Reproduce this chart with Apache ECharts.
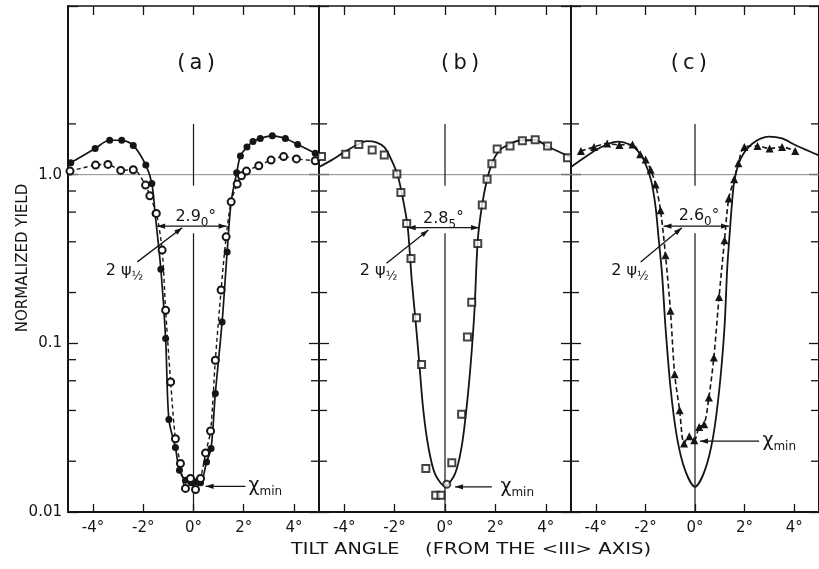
<!DOCTYPE html>
<html><head><meta charset="utf-8">
<script src="https://cdn.jsdelivr.net/npm/echarts@6/dist/echarts.min.js"></script>
<style>html,body{margin:0;padding:0;background:#fff}#c{width:819px;height:569px}</style>
</head><body><div id="c"></div>
<script>
// ---------- data ----------
const xTicks = [-4, -2, 0, 2, 4];
const xTickLabels = ['-4°', '-2°', '0°', '2°', '4°'];
const yTickValues = [0.01, 0.1, 1];
const yTickLabels = ['0.01', '0.1', '1.0'];
const yMinorTicks = [0.02, 0.04, 0.06, 0.08, 0.2, 0.4, 0.6, 0.8, 2];
const panelNames = ['(\u2009a\u2009)', '(\u2009b\u2009)', '(\u2009c\u2009)'];
const xAxisTitleA = 'TILT ANGLE';
const xAxisTitleB = '(FROM THE <III> AXIS)';
const yAxisTitle = 'NORMALIZED YIELD';

// panel (a)
const aFilled = [[-4.89,1.175],[-3.92,1.43],[-3.34,1.60],[-2.86,1.60],[-2.40,1.49],[-1.90,1.14],[-1.66,0.887],[-1.53,0.589],[-1.30,0.275],[-1.11,0.107],[-0.98,0.0353],[-0.72,0.0241],[-0.56,0.0177],[-0.32,0.0154],[-0.09,0.0149],[0.08,0.0151],[0.28,0.0149],[0.52,0.0198],[0.70,0.0238],[0.87,0.0504],[1.14,0.134],[1.34,0.348],[1.50,0.69],[1.72,1.025],[1.87,1.29],[2.13,1.46],[2.37,1.57],[2.66,1.64],[3.14,1.70],[3.66,1.64],[4.15,1.51],[4.85,1.34]];
const aOpen = [[-4.92,1.05],[-3.90,1.14],[-3.41,1.15],[-2.90,1.06],[-2.40,1.07],[-1.91,0.867],[-1.74,0.749],[-1.48,0.589],[-1.25,0.357],[-1.11,0.157],[-0.91,0.059],[-0.72,0.0272],[-0.52,0.0194],[-0.32,0.0138],[-0.12,0.0158],[0.08,0.0136],[0.28,0.0158],[0.48,0.0224],[0.68,0.0302],[0.87,0.0794],[1.10,0.207],[1.30,0.428],[1.50,0.69],[1.74,0.879],[1.91,0.984],[2.11,1.05],[2.60,1.13],[3.09,1.22],[3.59,1.28],[4.10,1.24],[4.85,1.21]];
// panel (b)
const bSquares = [[-4.90,1.28],[-3.94,1.32],[-3.42,1.51],[-2.89,1.40],[-2.41,1.31],[-1.91,1.01],[-1.75,0.784],[-1.52,0.514],[-1.35,0.318],[-1.13,0.142],[-0.93,0.0748],[-0.76,0.0181],[-0.37,0.01256],[-0.16,0.01256],[0.27,0.0196],[0.66,0.038],[0.89,0.109],[1.06,0.175],[1.30,0.391],[1.48,0.662],[1.67,0.94],[1.86,1.16],[2.07,1.42],[2.58,1.48],[3.07,1.59],[3.58,1.61],[4.07,1.48],[4.86,1.26]];
const bCurve = [[-5,1.11],[-4.5,1.22],[-4,1.36],[-3.5,1.50],[-3.1,1.58],[-2.7,1.55],[-2.4,1.45],[-2.12,1.22],[-1.86,0.97],[-1.66,0.706],[-1.48,0.49],[-1.32,0.237],[-1.17,0.137],[-1.03,0.079],[-0.86,0.040],[-0.66,0.0243],[-0.40,0.0169],[0,0.0142],[0.40,0.0169],[0.66,0.0243],[0.86,0.042],[1.03,0.079],[1.17,0.157],[1.30,0.409],[1.46,0.644],[1.66,0.927],[1.86,1.16],[2.12,1.37],[2.52,1.51],[3.05,1.60],[3.58,1.60],[4.11,1.46],[5,1.27]];
const bMin = [[0.07,0.0146]];
// panel (c)
const cTriangles = [[-4.60,1.38],[-4.07,1.46],[-3.54,1.53],[-3.05,1.50],[-2.52,1.51],[-2.21,1.32],[-1.99,1.23],[-1.79,1.07],[-1.59,0.875],[-1.39,0.615],[-1.19,0.333],[-0.99,0.156],[-0.82,0.0656],[-0.62,0.0401],[-0.44,0.0255],[-0.23,0.0281],[-0.03,0.0266],[0.17,0.0319],[0.37,0.0331],[0.56,0.0477],[0.76,0.0824],[0.97,0.188],[1.19,0.409],[1.36,0.722],[1.58,0.94],[1.75,1.17],[1.99,1.46],[2.52,1.48],[3.01,1.43],[3.51,1.46],[4.04,1.38]];
const cCurve = [[-5,1.11],[-4.5,1.25],[-4,1.40],[-3.5,1.52],[-3.12,1.57],[-2.6,1.50],[-2.3,1.38],[-2.06,1.22],[-1.77,0.927],[-1.59,0.645],[-1.46,0.41],[-1.33,0.259],[-1.19,0.125],[-0.99,0.0551],[-0.73,0.0279],[-0.40,0.0177],[0,0.0141],[0.40,0.0177],[0.73,0.0279],[0.99,0.0551],[1.19,0.125],[1.30,0.28],[1.40,0.45],[1.48,0.645],[1.59,0.927],[1.85,1.25],[2.32,1.53],[2.98,1.68],[3.51,1.64],[4.04,1.50],[4.84,1.33],[5,1.30]];

// annotations
const widthMain = ['2.9', '2.8', '2.6'];
const widthSub = ['0', '5', '0'];
const widthArrowL = [-1.45, -1.48, -1.27];
const widthArrowR = [1.32, 1.35, 1.37];
const widthLevel = [0.495, 0.485, 0.495];
const chiMinLevel = [0.0142, 0.0141, 0.0263];
const chiArrowFrom = [2.07, 1.86, 2.58];
const chiArrowTo = [0.48, 0.40, 0.20];
const psiPointerFrom = [[-2.24, 0.304], [-2.32, 0.298], [-2.19, 0.304]];
const psiPointerTo = [[-0.45, 0.484], [-0.66, 0.47], [-0.53, 0.484]];
const refLevel = 1.0;

// ---------- layout ----------
const FONT = 'DejaVu Sans';
const INK = '#151515';
const gridLeft = [68, 319, 571];
const gridWidth = [251, 252, 251];
const titleX = [0.1, 0.6, -0.25], titleY = 4.55;
const widthLabelX = [-0.72, -0.87, -0.66], widthLabelY = [0.56, 0.55, 0.57];
const psiLabelX = [-3.5, -3.38, -3.38], psiLabelY = 0.27;
const chiLabelX = [2.19, 2.2, 2.72];

const chart = echarts.init(document.getElementById('c'), null, {renderer: 'canvas'});

function lbl(v) {
  for (let i = 0; i < yTickValues.length; i++) {
    if (Math.abs(Math.log10(v) - Math.log10(yTickValues[i])) < 1e-6) return yTickLabels[i];
  }
  return '';
}

const grids = [], xAxes = [], yAxes = [], series = [];
for (let i = 0; i < 3; i++) {
  grids.push({left: gridLeft[i], width: gridWidth[i], top: 6, height: 506});
}
for (let i = 0; i < 3; i++) {
  xAxes.push({
    gridIndex: i, type: 'value', min: -5, max: 5, position: 'bottom',
    axisLine: {onZero: false, lineStyle: {color: INK, width: 2}},
    axisTick: {inside: true, length: 8, customValues: xTicks, lineStyle: {color: INK, width: 1.3}},
    axisLabel: {customValues: xTicks, formatter: v => xTickLabels[xTicks.indexOf(Math.round(v))] || '',
      fontSize: 15, fontFamily: FONT, color: INK, margin: 9},
    splitLine: {show: false}
  });
}
for (let i = 0; i < 3; i++) {
  xAxes.push({
    gridIndex: i, type: 'value', min: -5, max: 5, position: 'top',
    axisLine: {onZero: false, lineStyle: {color: INK, width: 1.6}},
    axisTick: {inside: true, length: 9, customValues: xTicks, lineStyle: {color: INK, width: 1.3}},
    axisLabel: {show: false}, splitLine: {show: false}
  });
}
for (let i = 0; i < 3; i++) {
  yAxes.push({
    gridIndex: i, type: 'log', logBase: 10, min: 0.01, max: 10, position: 'left',
    axisLine: {onZero: false, lineStyle: {color: INK, width: 2}},
    axisTick: {inside: true, length: 10, lineStyle: {color: INK, width: 1.3}},
    axisLabel: {show: i === 0, formatter: lbl, fontSize: 15, fontFamily: FONT, color: INK, margin: 6},
    splitLine: {show: false}
  });
}
for (let i = 0; i < 3; i++) {
  yAxes.push({
    gridIndex: i, type: 'log', logBase: 10, min: 0.01, max: 10, position: 'right',
    axisLine: {onZero: false, lineStyle: {color: INK, width: 2}},
    axisTick: {inside: true, length: 10, lineStyle: {color: INK, width: 1.3}},
    axisLabel: {show: false}, splitLine: {show: false}
  });
}

// minor ticks (both sides of each panel)
for (let i = 0; i < 3; i++) {
  series.push({
    type: 'custom', xAxisIndex: i, yAxisIndex: i, silent: true, z: 3,
    data: yMinorTicks.map(v => [0, v]),
    encode: {x: 0, y: 1},
    renderItem: (params, api) => {
      const y = api.coord([0, api.value(1)])[1];
      const xl = api.coord([-5, 1])[0], xr = api.coord([5, 1])[0];
      const st = {stroke: INK, lineWidth: 1.3};
      return {type: 'group', children: [
        {type: 'line', shape: {x1: xl, y1: y, x2: xl + 8, y2: y}, style: st},
        {type: 'line', shape: {x1: xr - 8, y1: y, x2: xr, y2: y}, style: st}
      ]};
    }
  });
}

// guides and arrows: rows [x1,y1,x2,y2,headStart,headEnd,style]
function arrowHead(p, q) { // head at q pointing from p
  const dx = q[0] - p[0], dy = q[1] - p[1];
  const L = Math.hypot(dx, dy) || 1;
  const ux = dx / L, uy = dy / L, len = 8, hw = 2.6;
  const bx = q[0] - ux * len, by = q[1] - uy * len;
  return {type: 'polygon', shape: {points: [[q[0], q[1]], [bx - uy * hw, by + ux * hw], [bx + uy * hw, by - ux * hw]]},
    style: {fill: INK}};
}
for (let i = 0; i < 3; i++) {
  const rows = [
    [-5, refLevel, 5, refLevel, 0, 0, 0],
    [0, 2, 0, 0.86, 0, 0, 1],
    [0, 0.45, 0, 0.01, 0, 0, 1],
    [widthArrowL[i], widthLevel[i], widthArrowR[i], widthLevel[i], 1, 1, 2],
    [psiPointerFrom[i][0], psiPointerFrom[i][1], psiPointerTo[i][0], psiPointerTo[i][1], 0, 1, 2],
    [chiArrowFrom[i], chiMinLevel[i], chiArrowTo[i], chiMinLevel[i], 0, 1, 2]
  ];
  series.push({
    type: 'custom', xAxisIndex: i, yAxisIndex: i, silent: true, z: 2,
    data: rows, encode: {x: [0, 2], y: [1, 3]},
    renderItem: (params, api) => {
      const p = api.coord([api.value(0), api.value(1)]);
      const q = api.coord([api.value(2), api.value(3)]);
      const kind = api.value(6);
      const style = kind === 0 ? {stroke: '#8a8a8a', lineWidth: 1} :
                    kind === 1 ? {stroke: INK, lineWidth: 1.2} : {stroke: INK, lineWidth: 1.3};
      const ch = [{type: 'line', shape: {x1: p[0], y1: p[1], x2: q[0], y2: q[1]}, style}];
      if (api.value(4)) ch.push(arrowHead(q, p));
      if (api.value(5)) ch.push(arrowHead(p, q));
      return {type: 'group', children: ch};
    }
  });
}

// text annotations
for (let i = 0; i < 3; i++) {
  const rows = [
    [titleX[i], titleY, 0],
    [widthLabelX[i], widthLabelY[i], 1],
    [psiLabelX[i], psiLabelY, 2],
    [chiLabelX[i], chiMinLevel[i], 3]
  ];
  const texts = [
    {text: panelNames[i], bare: true},
    {text: `{m|${widthMain[i]}}{s|${widthSub[i]}}{d|°}`},
    {text: '{m|2 ψ}{s|½}'},
    {text: '{c|χ}{s|min}'}
  ];
  const rich = {
    m: {fontSize: 16, fontFamily: FONT, color: INK, lineHeight: 24, verticalAlign: 'middle'},
    c: {fontSize: 19, fontFamily: FONT, color: INK, lineHeight: 24, verticalAlign: 'middle'},
    s: {fontSize: 12, fontFamily: FONT, color: INK, lineHeight: 13, verticalAlign: 'bottom'},
    d: {fontSize: 15, fontFamily: FONT, color: INK, lineHeight: 24, verticalAlign: 'middle'}
  };
  series.push({
    type: 'custom', xAxisIndex: i, yAxisIndex: i, silent: true, z: 6,
    data: rows, encode: {x: 0, y: 1},
    renderItem: (params, api) => {
      const p = api.coord([api.value(0), api.value(1)]);
      const t = texts[api.value(2)];
      if (t.bare) {
        return {type: 'text', x: p[0], y: p[1], style: {text: t.text, fontSize: 21, fontFamily: FONT,
          fill: INK, align: 'center', verticalAlign: 'middle'}};
      }
      return {type: 'text', x: p[0], y: p[1], style: {text: t.text, rich, fill: INK,
        align: 'left', verticalAlign: 'middle'}};
    }
  });
}

// data series
const common = {animation: false, z: 5, clip: true};
series.push(Object.assign({type: 'line', name: 'a-filled', xAxisIndex: 0, yAxisIndex: 0, data: aFilled,
  smooth: 0.3, symbol: 'circle', symbolSize: 7,
  lineStyle: {color: INK, width: 1.7}, itemStyle: {color: INK}}, common));
series.push(Object.assign({type: 'line', name: 'a-open', xAxisIndex: 0, yAxisIndex: 0, data: aOpen,
  smooth: 0.3, symbol: 'emptyCircle', symbolSize: 7,
  lineStyle: {color: INK, width: 1.4, type: [4, 3]}, itemStyle: {color: INK, borderWidth: 1.2}}, common));
series.push(Object.assign({type: 'line', name: 'b-curve', xAxisIndex: 1, yAxisIndex: 1, data: bCurve,
  smooth: 0.3, symbol: 'none',
  lineStyle: {color: INK, width: 1.8}}, common));
series.push(Object.assign({type: 'scatter', name: 'b-squares', xAxisIndex: 1, yAxisIndex: 1, data: bSquares,
  symbol: 'emptyRect', symbolSize: 7, itemStyle: {color: INK, borderWidth: 1.3}}, common));
series.push(Object.assign({type: 'scatter', name: 'b-min', xAxisIndex: 1, yAxisIndex: 1, data: bMin,
  symbol: 'emptyCircle', symbolSize: 7, itemStyle: {color: INK, borderWidth: 1.3}}, common));
series.push(Object.assign({type: 'line', name: 'c-curve', xAxisIndex: 2, yAxisIndex: 2, data: cCurve,
  smooth: 0.3, symbol: 'none',
  lineStyle: {color: INK, width: 1.8}}, common));
series.push(Object.assign({type: 'line', name: 'c-triangles', xAxisIndex: 2, yAxisIndex: 2, data: cTriangles,
  smooth: 0.3, symbol: 'triangle', symbolSize: 8,
  lineStyle: {color: INK, width: 1.6, type: [5, 3]}, itemStyle: {color: INK}}, common));

chart.setOption({
  backgroundColor: '#fff',
  animation: false,
  grid: grids, xAxis: xAxes, yAxis: yAxes, series,
  graphic: [
    {type: 'text', x: 23, y: 258, rotation: Math.PI / 2,
      style: {text: yAxisTitle, fontSize: 15, fontFamily: FONT, fill: INK, align: 'center', verticalAlign: 'middle'}},
    {type: 'text', x: 291, y: 550, scaleX: 1.28,
      style: {text: xAxisTitleA, fontSize: 15, fontFamily: FONT, fill: INK, align: 'left', verticalAlign: 'middle'}},
    {type: 'text', x: 425, y: 550, scaleX: 1.31,
      style: {text: xAxisTitleB, fontSize: 15, fontFamily: FONT, fill: INK, align: 'left', verticalAlign: 'middle'}}
  ]
});
</script>
</body></html>
